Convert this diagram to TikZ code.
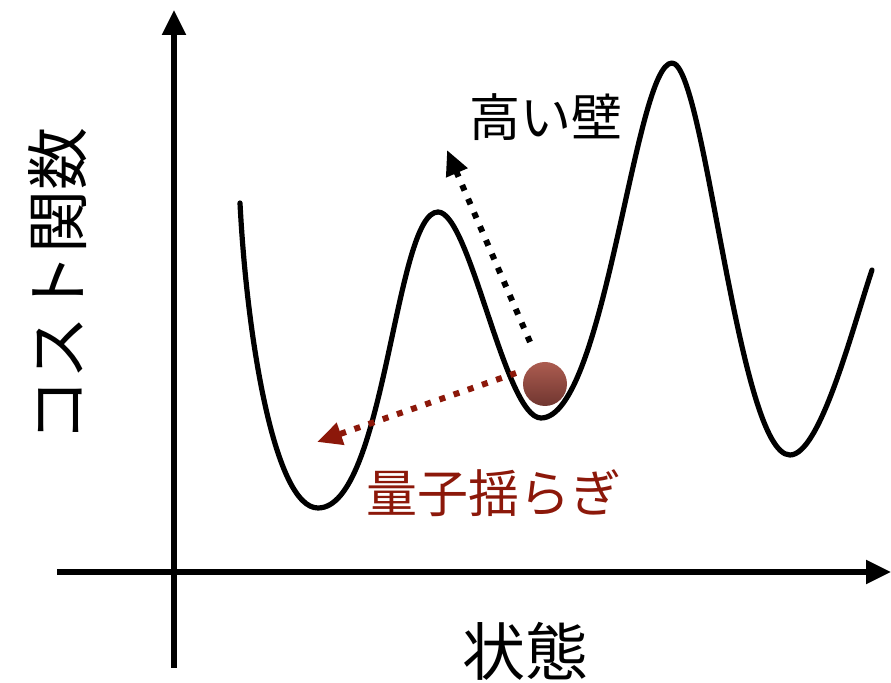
\documentclass[tikz,border=0pt]{standalone}
\usepackage{fontspec}
\newfontfamily\jpfont{Noto Sans CJK JP}
\usetikzlibrary{arrows.meta}
\definecolor{quantumred}{RGB}{140,24,10}
\definecolor{balltop}{RGB}{172,92,80}
\definecolor{ballbottom}{RGB}{112,54,48}
\begin{document}
\begin{tikzpicture}[x=0.5pt,y=-0.5pt,
  axis/.style={line width=2.6pt,-{Triangle[width=11.5pt,length=12.5pt]}},
  hop/.style={line width=3pt,line cap=butt,dash pattern=on 3pt off 4.5pt,
    -{Triangle[width=11pt,length=12.5pt]}},
  label/.style={font=\jpfont\fontsize{25.5pt}{30pt}\selectfont,inner sep=0pt},
  axislabel/.style={font=\jpfont\fontsize{31.5pt}{36pt}\selectfont,inner sep=0pt}]
  \useasboundingbox (0,0) rectangle (891,683);

  % axes
  \coordinate (xfrom) at (57,572);  \coordinate (xto) at (891,572);
  \coordinate (yfrom) at (174,668); \coordinate (yto) at (174,10);
  \draw[axis] (xfrom) -- (xto);
  \draw[axis] (yfrom) -- (yto);
  \node[axislabel] (xlabel) at (525,651) {状態};
  \node[axislabel,rotate=90] (ylabel) at (58,285) {コスト関数};

  % cost landscape
  \draw[line width=2.6pt,line join=round,line cap=round]
    (240,203) .. controls (247,340) and (275,508) .. (318,508)
              .. controls (385,508) and (395,212) .. (438,212)
              .. controls (470,212) and (505,418) .. (541,418)
              .. controls (605,418) and (635,63) .. (672,63)
              .. controls (705,63) and (738,455) .. (790,455)
              .. controls (820,455) and (852,330) .. (872,270);

  % state and moves
  \node[circle,minimum size=22pt,inner sep=0pt,top color=balltop,
    bottom color=ballbottom] (ball) at (545,384) {};
  \coordinate (climbfrom) at (530,342); \coordinate (climbto) at (447,150);
  \coordinate (tunnelfrom) at (516,373); \coordinate (tunnelto) at (317,442);
  \draw[hop] (climbfrom) -- (climbto);
  \draw[hop,quantumred] (tunnelfrom) -- (tunnelto);
  \node[label] (wall) at (546,117) {高い壁};
  \node[label,text=quantumred] (fluct) at (494,493) {量子揺らぎ};
\end{tikzpicture}
\end{document}
